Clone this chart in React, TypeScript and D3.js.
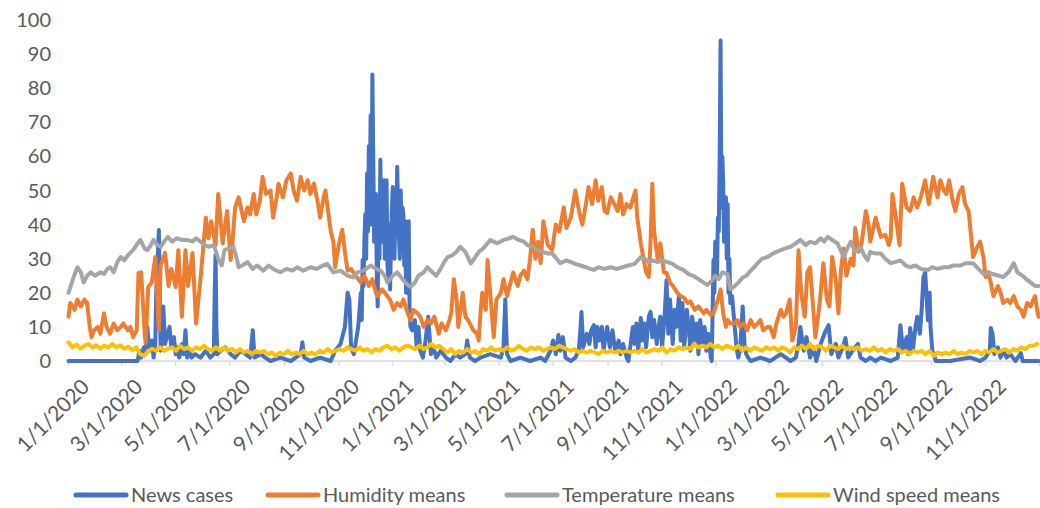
import React from "react";
import * as d3 from "d3";

// ---------- DATA (day index from 2020-01-01, value) ----------
const seriesNames = ["News cases", "Humidity means", "Temperature means", "Wind speed means"];
const yTicks = [0, 10, 20, 30, 40, 50, 60, 70, 80, 90, 100];
const xTickLabels = [
  "1/1/2020", "3/1/2020", "5/1/2020", "7/1/2020", "9/1/2020", "11/1/2020",
  "1/1/2021", "3/1/2021", "5/1/2021", "7/1/2021", "9/1/2021", "11/1/2021",
  "1/1/2022", "3/1/2022", "5/1/2022", "7/1/2022", "9/1/2022", "11/1/2022",
];

const newsCases: [number, number][] = [
  [0,0],[76,0],[78,0],[80,3],[82,1],[85,4],[87,2],[89,10],[91,3],[94,6],[96,1],[98,5],[99,20],[102,38.4],[104,3],[106,8],[107,16],[109,5],[112,8],[114,10],[116,4],[119,7],[121,2],[123,4],[125,1],[128,5],[130,2],[132,9],[134,1],[137,3],[139,1],[143,2],[149,1],[155,3],[160,1],[164,2],[165,20],[166,31],[167,10],[168,2],[172,3],[177,4],[183,2],[188,1],[194,3],[200,2],[205,1],[208,9],[210,1],[217,2],[222,1],[228,0],[239,1],[251,0],[262,2],[264,5.5],[266,1],[273,0],[284,1],[296,0],[301,3],[307,5],[312,10],[315,20],[317,18],[319,4],[322,2],[324,5],[327,10],[330,20],[331,12],[332,29.6],[333,22],[334,35],[335,43],[336,30],[337,55],[338,38],[339,63],[340,45],[341,72],[342,40],[343,84],[344,60],[345,35],[346,42],[347,49],[348,25],[349,16],[350,45],[351,30],[352,59],[353,35],[354,50],[355,38],[356,53],[357,30],[358,40],[359,53],[360,28],[361,24.6],[362,40],[363,21],[364,35],[365,45],[366,51],[367,35],[368,30],[369,50],[370,40],[371,57],[372,45],[373,36],[374,30],[375,50],[376,35],[377,45],[378,43],[379,28],[380,41],[381,20],[382,30],[383,38],[384,41],[385,15],[386,10],[388,9],[391,12],[393,4],[395,10],[397,3],[400,1],[403,6],[406,13],[409,2],[412,4],[415,1],[420,3],[426,1],[431,0],[437,2],[442,1],[448,2],[450,6],[453,1],[459,0],[465,1],[476,2],[488,1],[491,4],[493,18],[495,2],[499,0],[510,1],[521,0],[533,1],[538,0],[544,3],[547,6],[550,2],[553,7.6],[555,3],[558,7],[561,1],[567,0],[572,1],[576,3],[578,10],[579,14.4],[581,4],[585,8],[588,5],[590,9],[593,10.5],[595,4],[597,10],[599,6],[602,10],[604,3],[606,7],[608,10],[611,4],[614,9],[617,3],[621,6],[623,2],[626,5],[630,1],[632,0],[634,4],[637,10],[639,5],[641,11],[643,3],[646,12.6],[648,6],[650,11],[652,4],[655,13],[657,14.4],[659,7],[661,12],[664,5],[666,10],[668,13],[670,4],[673,14],[675,23.7],[677,8],[679,18],[682,5],[684,15],[686,10],[689,19],[691,6],[693,17],[695,4],[698,15],[700,10],[702,3],[704,13],[707,6],[709,11],[711,2],[713,12],[716,5],[718,10],[720,3],[722,8],[725,1],[726,0],[727,14],[728,29.6],[729,20],[730,35],[731,32],[732,25],[733,42],[734,38],[735,60],[736,94],[737,45],[738,60],[739,52],[740,35],[741,40],[742,48],[743,30],[744,46],[745,20],[746,30],[747,17],[749,19],[752,10],[754,4],[756,1],[758,3],[761,16],[763,5],[765,2],[767,1],[770,0],[781,1],[792,0],[804,2],[815,0],[821,1],[824,5],[826,10],[830,3],[833,7],[837,1],[841,4],[844,0],[849,5],[854,8.5],[858,10.5],[861,2],[866,5],[869,1],[874,4],[877,6.7],[880,1],[885,3],[891,5],[894,1],[900,0],[905,1],[911,0],[917,1],[928,0],[936,1],[939,10.5],[942,3],[946,7],[948,2],[950,9.7],[953,3],[956,10],[958,13],[961,8],[963,15],[965,24.6],[967,26],[970,12],[972,20],[973,10],[975,3],[979,0],[995,0],[1018,1],[1029,0],[1035,1],[1040,3],[1041,9.7],[1043,8],[1045,2],[1049,4],[1052,1],[1055,3],[1059,1],[1063,2],[1069,0],[1075,2.3],[1077,0],[1095,0],
];

const humidityMeans: [number, number][] = [
  [0,13],[2,17],[7,15],[10,18],[14,16],[18,18],[21,17],[24,10],[26,7],[29,9],[33,10],[36,8],[40,14],[43,10],[47,8],[51,11],[55,9],[59,10],[62,11],[67,9],[70,10],[73,7],[77,9],[79,25.8],[82,26],[86,8],[87,5.3],[90,21.7],[94,23],[98,30.5],[102,9],[104,28],[109,31.7],[113,22],[116,27],[121,21.7],[124,32.5],[128,13],[132,32.5],[135,22],[140,31.7],[144,11],[149,24],[155,42],[158,36],[161,41],[166,34],[169,49],[174,34.5],[179,44],[183,29.6],[185,34.5],[188,45],[192,48],[198,41],[202,45],[205,43],[209,49],[212,43],[216,47],[219,54],[223,49],[228,50],[231,42],[235,48],[237,52],[242,48],[246,53],[251,55],[254,50],[258,47],[262,54],[266,50],[270,53],[273,49],[277,52],[281,47],[284,42],[288,48],[290,50],[293,44],[296,38],[299,35],[301,27.5],[305,34],[309,38.5],[313,30],[315,26.5],[319,27],[324,25],[330,23],[334,25],[339,22],[343,24],[347,20],[349,19],[354,21],[360,19],[363,18],[367,15],[371,17],[375,16],[378,18],[383,14],[386,12],[389,15],[394,14],[397,13],[401,10],[405,12],[409,11],[413,13],[418,8],[421,11],[426,9],[430,12],[432,14],[435,24],[438,18],[440,10],[445,20],[448,13],[451,12],[457,9],[461,8],[463,6],[465,14],[467,20],[471,15],[473,29.6],[476,20],[480,7],[483,18],[488,20],[491,24],[495,19],[499,23],[502,26],[507,22],[510,25],[514,26.5],[518,24],[521,30],[524,38.5],[527,30],[530,35],[533,28.7],[536,41],[541,34],[546,32.5],[550,40],[554,38],[559,45],[562,39],[567,42],[572,50],[577,43],[580,40],[584,46],[587,51],[591,46],[595,53],[598,47],[602,51],[605,44],[608,43.4],[612,48],[616,46],[620,44],[623,49],[626,43],[630,46],[634,45],[640,50],[642,42],[646,34.5],[649,30],[652,26],[655,24.6],[657,35],[659,52],[661,38],[665,30],[668,34.5],[672,26],[675,25.8],[679,23],[683,21.7],[687,20],[691,19],[695,18.5],[699,17],[702,17.5],[707,15],[711,16],[717,14],[720,15],[725,13.5],[728,14],[733,18],[736,21],[739,14],[742,10],[744,12],[747,11],[751,11],[755,12],[758,10],[762,11],[766,9],[770,12],[774,10],[778,11],[781,12],[784,9],[789,10],[792,10],[796,7],[799,11],[804,15],[807,13],[810,14],[814,18],[817,6],[821,10],[824,32.5],[827,20],[831,13],[834,26],[837,27.5],[841,14],[843,7],[847,15],[849,20],[852,28.7],[856,18],[859,16],[862,30.5],[866,24],[869,14],[872,27],[875,33],[878,25],[883,30],[886,28],[888,39],[892,32],[895,34],[900,44],[903,40],[905,35],[911,42],[917,36.4],[922,37],[926,34],[928,36],[930,49],[935,40],[938,34],[941,52],[946,45],[950,44],[954,48],[958,45],[962,48],[967,53],[971,46],[976,54],[981,48],[984,53],[988,50],[991,49],[994,53],[998,47],[1001,44],[1005,49],[1009,51],[1012,46],[1016,44],[1019,36],[1021,30.5],[1025,33],[1029,35],[1033,30],[1035,24.6],[1038,26],[1041,23],[1044,19],[1049,22],[1052,20],[1055,17],[1060,18],[1063,17],[1067,19],[1071,16],[1075,15],[1078,13],[1082,17],[1086,16],[1089,18],[1091,19],[1094,14],[1095,13],
];

const temperatureMeans: [number, number][] = [
  [0,20],[5,24],[10,27.5],[14,26],[17,23],[21,25],[25,26],[30,25],[36,26],[40,25.5],[44,27],[47,27.5],[51,26],[55,29],[59,30.5],[63,29.5],[67,31],[73,32.5],[78,34.5],[81,35.5],[86,33],[89,32.5],[93,34],[96,35.5],[100,34],[104,33.5],[108,35],[112,36.4],[117,35],[122,36],[128,35.5],[134,35.5],[140,35],[144,36],[149,35],[154,34],[158,33.5],[164,34],[169,30],[173,28],[176,32.5],[181,33],[186,33.5],[190,30],[192,27.5],[196,28],[202,29],[208,27],[213,28],[220,26.5],[226,28],[231,27],[239,26],[246,27],[253,26.5],[258,27.5],[265,26.5],[273,27.5],[280,27],[287,28],[292,28.5],[299,26],[307,26.5],[315,25],[321,24.5],[326,26],[333,26.5],[341,28],[347,27],[352,26.5],[357,25],[360,23],[366,25],[371,26],[377,24],[382,22.5],[386,21.7],[391,23],[395,25],[401,26],[405,27.5],[411,26],[415,25],[420,27],[424,29],[428,30.5],[433,31],[438,32],[442,33.5],[448,32],[454,28.6],[458,30],[463,32],[468,33],[476,35.5],[484,34.5],[491,35.5],[498,36],[502,36.4],[508,35.5],[514,35],[518,34],[524,33.5],[529,32.5],[535,32],[541,31.5],[546,31.5],[551,30],[555,28.7],[562,29.5],[567,29],[572,28.5],[578,28],[584,27.5],[589,27],[593,26.7],[598,27.5],[605,27],[612,27.5],[619,27],[625,27.5],[632,28],[639,28.5],[646,30.5],[650,30],[655,29],[659,29.5],[665,29],[670,29.5],[676,29],[682,28.5],[687,27.5],[694,26.7],[700,25.5],[705,25],[711,24],[717,23],[721,22.3],[726,23.5],[730,25],[734,24],[738,26],[744,25.5],[747,21],[752,22],[756,23],[761,24.5],[765,25],[770,26.5],[774,27.5],[778,28.7],[783,30],[789,30.5],[795,31.5],[799,32],[804,32.5],[809,33],[815,33.5],[821,34.5],[826,35.5],[832,34],[837,35],[843,34.5],[849,36],[853,35],[857,36.4],[862,35.5],[868,34.5],[875,30.5],[879,33],[883,35],[888,32],[894,33.5],[898,31],[902,29.6],[905,32],[911,31.5],[917,31.5],[922,30],[928,28.7],[933,29],[939,29.5],[945,28],[950,27.5],[956,28],[962,27],[970,26.7],[975,27.5],[981,27],[988,27.5],[993,27.5],[999,28],[1007,28],[1013,28.7],[1021,28.7],[1027,27],[1033,25.5],[1038,26],[1044,25.5],[1050,25],[1055,24.6],[1061,26],[1067,28.7],[1071,26],[1077,25],[1081,24],[1086,23],[1091,22],[1095,22],
];

// wind speed sampled every WIND_STEP_DAYS days from 2020-01-01
const WIND_STEP_DAYS = 4.5;
const windSpeedMeans: number[] = [
  5.5,4,4.8,3.6,4.4,5,4,4.6,3.6,4.5,4,5,4,4.6,3.6,4.2,3.2,4,2,1.5,
  3,3.6,3,4,3,3.6,4,3,4.5,3.5,4,3,4,3.5,4.5,3.5,3,4,3,4,
  3,3.6,2.5,3.5,2.5,3,2,3,2.5,3,2,2.5,1.5,2.5,2,3,2,2.5,2,3,
  2,2.5,2,3,2.5,3.5,2.5,3,3.5,3,4,3.5,3,4,3,3.5,2.5,3.5,3,4,
  4.5,3.5,4,3,4,4.5,4,3.5,4.5,3.5,4,5,4,4.5,3.5,2.5,3.5,2,3,2.5,
  3.5,2.5,3,2,3.5,3,4,3,3.5,3,4,3,3.5,4.5,3.5,3,4,3.5,4,3,
  3.5,4,3.5,4.5,4,3.5,3,3.5,2.5,3,2.5,3,2.5,2,3,2.5,3,2.5,3,2.5,
  3,2.5,3,2.5,3.5,2.5,3,3.5,3,4,2.5,3.5,3,4,3.5,4,3.5,5,4,4.5,
  4,5,4,4.5,3.5,4.5,4,3.5,4.5,3,4,3,4,3.5,3,4,3.5,4,3,4,
  3.5,2.5,4,3.5,4.5,3.5,5,3.5,4.5,4,3,4.5,4,3.5,4.5,3.5,4,3.5,4,3,
  3.5,3,4,3,3.5,2.5,3.5,3,3.5,2.5,3,2,3,2.5,3,2,3,1.5,2.5,2,
  2.5,2,3,2,2.5,2,3,2.5,3,2,3,2.5,3.5,2.5,3,3.5,2.5,3.5,3,4,
  3.5,4.5,4.5,5,
];

const colors = ["#4472C4", "#ED7D31", "#A5A5A5", "#FFC000"];

// ---------- LAYOUT ----------
const W = 1040;
const H = 508;
const X0 = 68.5;
const X1 = 1039.5;
const Y0 = 361;
const Y1 = 20;
const FONT = "Lato, 'Open Sans', sans-serif";
const TEXT = "#595959";

const DAY = 86400000;
const START = Date.UTC(2020, 0, 1);
const toDate = (d: number) => new Date(START + d * DAY);

export default function App() {
  const x = d3.scaleUtc().domain([toDate(0), new Date(Date.UTC(2023, 0, 1))]).range([X0, X1]);
  const y = d3.scaleLinear().domain([0, 100]).range([Y0, Y1]);

  const windPairs: [number, number][] = windSpeedMeans.map((v, i) => [i * WIND_STEP_DAYS, v]);
  const all = [newsCases, humidityMeans, temperatureMeans, windPairs];

  const line = d3
    .line<[number, number]>()
    .x((d) => x(toDate(d[0])))
    .y((d) => y(d[1]));

  const ticks = d3.utcMonth.every(2)!.range(toDate(0), new Date(Date.UTC(2023, 0, 2)));

  const legendItems = [
    { lx: 76, tx: 131 },
    { lx: 268, tx: 323 },
    { lx: 507, tx: 562 },
    { lx: 778, tx: 833 },
  ];

  return (
    <svg
      width={W}
      height={H}
      style={{ position: "absolute", left: 0, top: 0, background: "#fff" }}
      fontFamily={FONT}
    >
      <rect x={0} y={0} width={W} height={H} fill="#fff" />
      {/* y labels */}
      {yTicks.map((t) => (
        <text key={t} x={51} y={y(t)} dy="0.35em" textAnchor="end" fontSize={20} fill={TEXT}>
          {t}
        </text>
      ))}
      {/* x axis */}
      <line x1={X0} x2={X1} y1={Y0} y2={Y0} stroke="#D9D9D9" strokeWidth={1.3} />
      {ticks.map((t, i) => (
        <g key={i}>
          <line x1={x(t)} x2={x(t)} y1={Y0} y2={Y0 + 5} stroke="#D9D9D9" strokeWidth={1.3} />
          {i < xTickLabels.length && (
            <text
              transform={`translate(${x(t) + 17},${Y0 + 22}) rotate(-45)`}
              textAnchor="end"
              dy="0.35em"
              fontSize={21}
              fill={TEXT}
            >
              {xTickLabels[i]}
            </text>
          )}
        </g>
      ))}
      {/* series */}
      {all.map((s, i) => (
        <path
          key={i}
          d={line(s) || ""}
          fill="none"
          stroke={colors[i]}
          strokeWidth={4}
          strokeLinejoin="round"
          strokeLinecap="round"
        />
      ))}
      {/* legend */}
      {legendItems.map((it, i) => (
        <g key={i}>
          <line x1={it.lx} x2={it.lx + 50} y1={495} y2={495} stroke={colors[i]} strokeWidth={5} strokeLinecap="round" />
          <text x={it.tx} y={495} dy="0.35em" fontSize={20} fill={TEXT}>
            {seriesNames[i]}
          </text>
        </g>
      ))}
    </svg>
  );
}
